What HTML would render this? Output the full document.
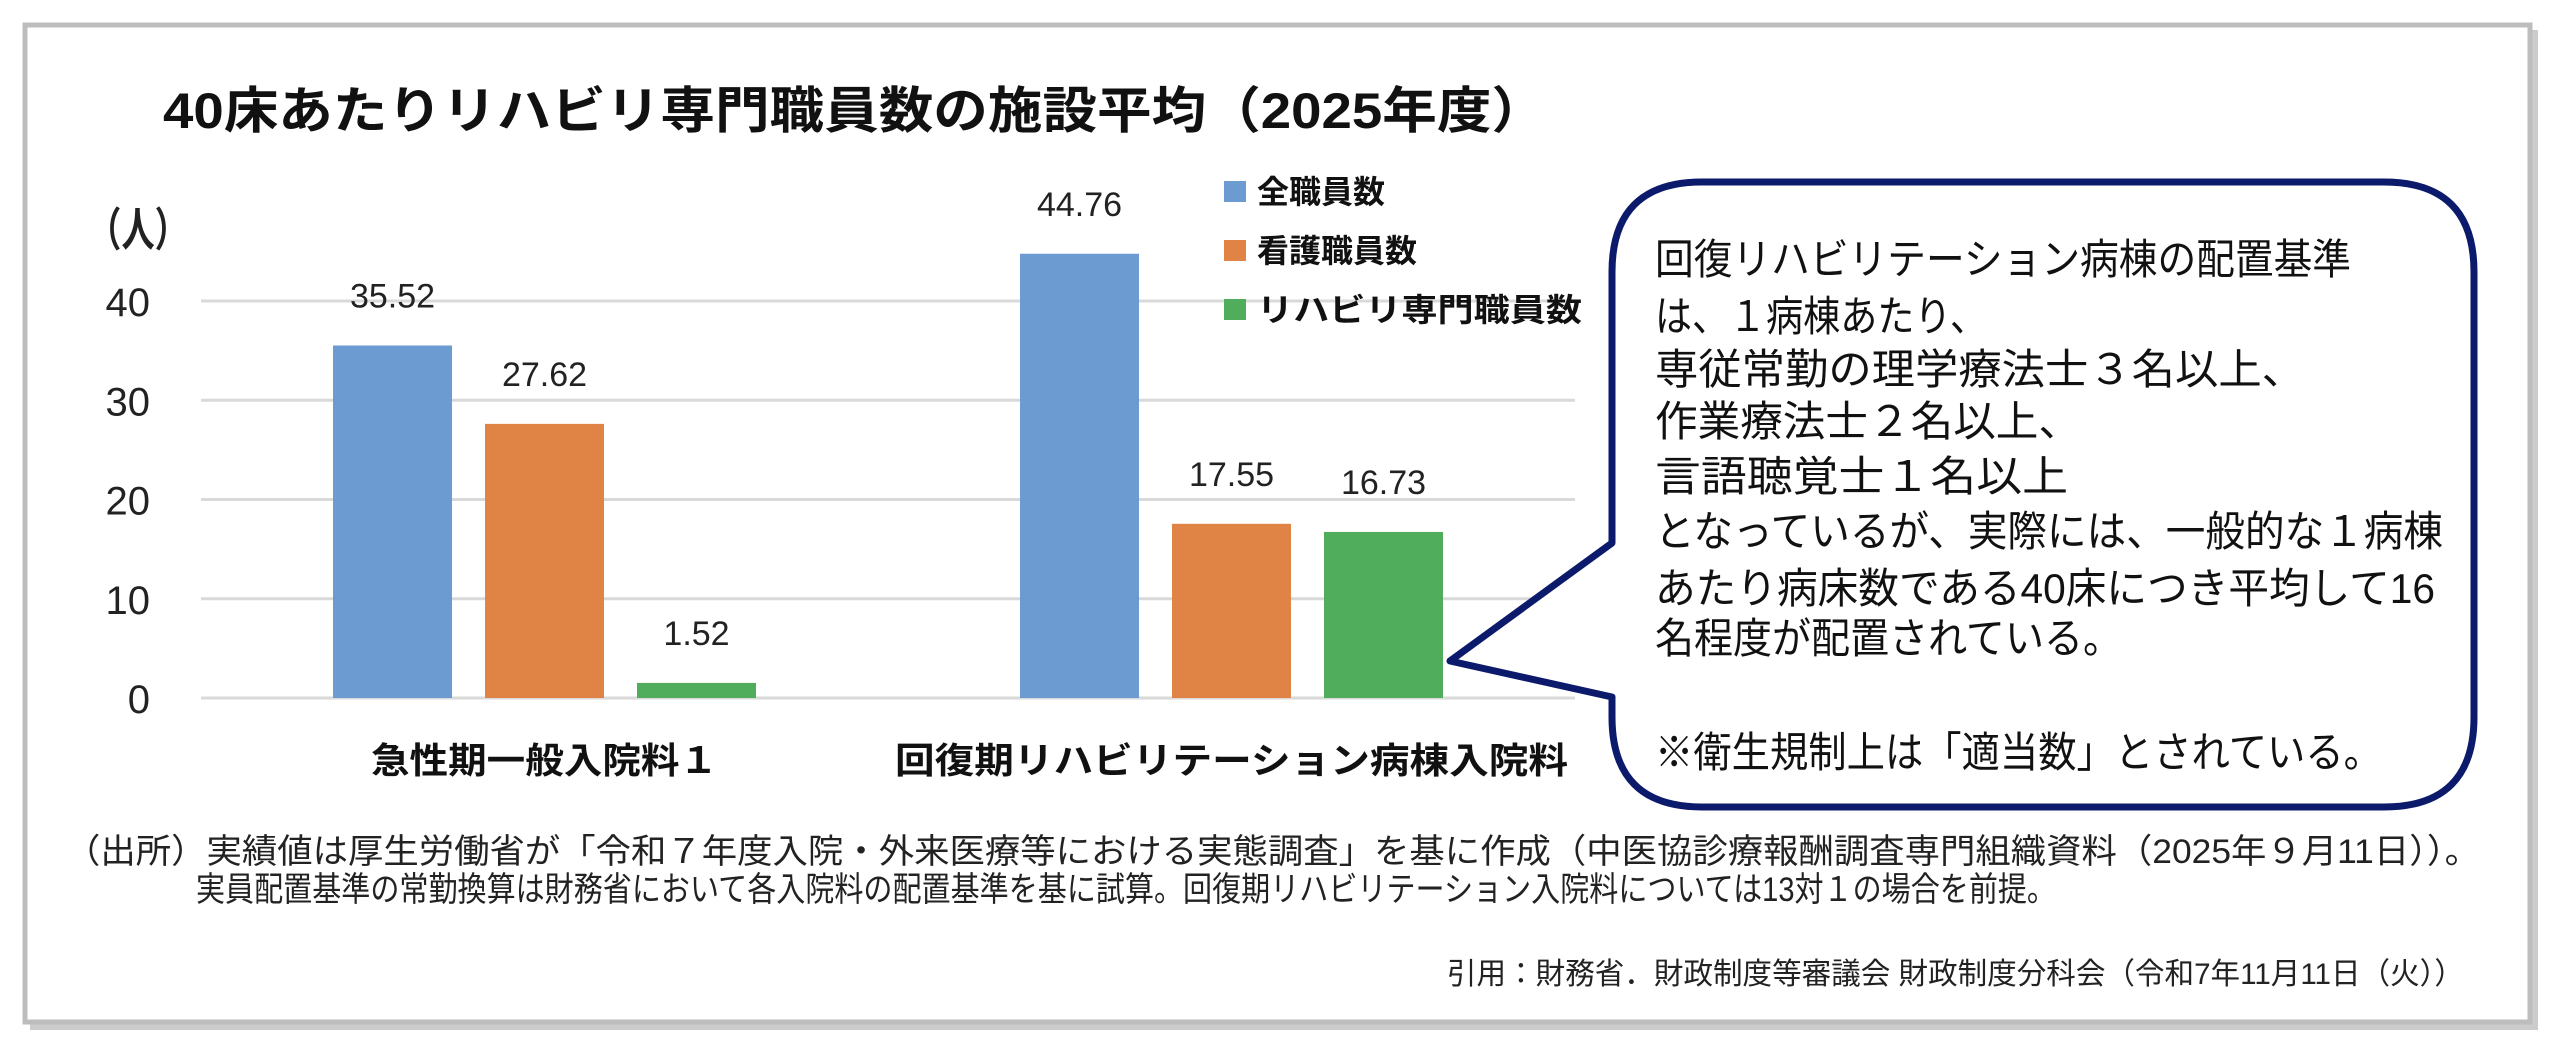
<!DOCTYPE html>
<html><head><meta charset="utf-8"><style>
html,body{margin:0;padding:0;background:#fff;}
svg{display:block;font-family:"Liberation Sans","Noto Sans CJK JP",sans-serif;}
</style></head><body>
<svg id="chart" width="2560" height="1052" viewBox="0 0 2560 1052" xmlns="http://www.w3.org/2000/svg">
<rect x="30" y="30" width="2508" height="1000" fill="#9a9a9a" opacity="0.5"/>
<rect x="25" y="25" width="2505" height="997" fill="#fff" stroke="#bdbdbd" stroke-width="5"/>
<text x="163" y="128" font-size="50" font-weight="bold" fill="#111" textLength="1383" lengthAdjust="spacingAndGlyphs">40床あたりリハビリ専門職員数の施設平均（2025年度）</text>
<text x="88" y="246" font-size="46" font-weight="bold" fill="#222" textLength="100" lengthAdjust="spacingAndGlyphs">（人）</text>
<g id="grid"></g><g id="bars"></g><g id="labels"></g>
<g>
<rect x="1224" y="181" width="22" height="21" fill="#6b9bd1"/>
<text x="1257" y="203" font-size="32" font-weight="bold" fill="#111">全職員数</text>
<rect x="1224" y="240" width="22" height="21" fill="#e08446"/>
<text x="1257" y="262" font-size="32" font-weight="bold" fill="#111">看護職員数</text>
<rect x="1224" y="299" width="22" height="21" fill="#4fad5b"/>
<text x="1257" y="321" font-size="32" font-weight="bold" fill="#111" textLength="325" lengthAdjust="spacingAndGlyphs">リハビリ専門職員数</text>
</g>
<path d="M1702,182 H2384 Q2474,182 2474,272 V717 Q2474,807 2384,807 H1702 Q1612,807 1612,717 V697 L1450,661 L1612,543 V272 Q1612,182 1702,182 Z" fill="#fff" stroke="#0c1a6b" stroke-width="7" stroke-linejoin="round"/>
<g font-size="42" fill="#111">
<text x="1655" y="274" textLength="696" lengthAdjust="spacingAndGlyphs">回復リハビリテーション病棟の配置基準</text>
<text x="1655" y="331" textLength="332" lengthAdjust="spacingAndGlyphs">は、１病棟あたり、</text>
<text x="1655" y="384" textLength="650" lengthAdjust="spacingAndGlyphs">専従常勤の理学療法士３名以上、</text>
<text x="1655" y="436" textLength="426" lengthAdjust="spacingAndGlyphs">作業療法士２名以上、</text>
<text x="1655" y="491" textLength="413" lengthAdjust="spacingAndGlyphs">言語聴覚士１名以上</text>
<text x="1655" y="546" textLength="788" lengthAdjust="spacingAndGlyphs">となっているが、実際には、一般的な１病棟</text>
<text x="1655" y="603" textLength="780" lengthAdjust="spacingAndGlyphs">あたり病床数である40床につき平均して16</text>
<text x="1655" y="653" textLength="467" lengthAdjust="spacingAndGlyphs">名程度が配置されている。</text>
<text x="1655" y="767" textLength="727" lengthAdjust="spacingAndGlyphs">※衛生規制上は「適当数」とされている。</text>
</g>
<text x="65" y="863" font-size="34" fill="#222" textLength="2415" lengthAdjust="spacingAndGlyphs">（出所）実績値は厚生労働省が「令和７年度入院・外来医療等における実態調査」を基に作成（中医協診療報酬調査専門組織資料（2025年９月11日））。</text>
<text x="196" y="901" font-size="34" fill="#222" textLength="1860" lengthAdjust="spacingAndGlyphs">実員配置基準の常勤換算は財務省において各入院料の配置基準を基に試算。回復期リハビリテーション入院料については13対１の場合を前提。</text>
<text x="1447" y="984" font-size="30" fill="#222" textLength="1017" lengthAdjust="spacingAndGlyphs">引用：財務省．財政制度等審議会 財政制度分科会（令和7年11月11日（火））</text>
</svg>
<script>
const categories = ["急性期一般入院料１", "回復期リハビリテーション病棟入院料"];
const seriesAll = [35.52, 44.76];
const seriesNurse = [27.62, 17.55];
const seriesRehab = [1.52, 16.73];
const yTicks = [0, 10, 20, 30, 40];
const catLabelWidths = [347, 673];

const NS = "http://www.w3.org/2000/svg";
const plotL = 201, plotR = 1575, y0 = 698, pxPerUnit = 9.925;
const yScale = v => y0 - v * pxPerUnit;
const catW = (plotR - plotL) / categories.length;
const xCenter = i => plotL + catW * (i + 0.5);
const barW = 119, barStep = 152;
function mk(tag, attrs, parent) {
  const el = document.createElementNS(NS, tag);
  for (const k in attrs) el.setAttribute(k, attrs[k]);
  parent.appendChild(el);
  return el;
}
const grid = document.getElementById('grid');
const bars = document.getElementById('bars');
const labels = document.getElementById('labels');
yTicks.forEach(t => {
  const ln = mk('line', {x1: plotL, x2: plotR, y1: yScale(t), y2: yScale(t), stroke: '#d9d9d9', 'stroke-width': 3}, grid);
  
  
  const tx = mk('text', {x: 150, y: yScale(t) + 15, 'font-size': 40, fill: '#222', 'text-anchor': 'end'}, grid);
  tx.textContent = t;
  
  
});
const series = [{v: seriesAll, c: '#6b9bd1', n: 'all'}, {v: seriesNurse, c: '#e08446', n: 'nurse'}, {v: seriesRehab, c: '#4fad5b', n: 'rehab'}];
categories.forEach((cat, i) => {
  series.forEach((s, j) => {
    const cx = xCenter(i) + (j - 1) * barStep;
    const v = s.v[i];
    const r = mk('rect', {x: cx - barW / 2, y: yScale(v), width: barW, height: y0 - yScale(v), fill: s.c}, bars);
    
    
    const t = mk('text', {x: cx, y: yScale(v) - 38, 'font-size': 34, fill: '#222', 'text-anchor': 'middle'}, labels);
    t.textContent = v.toFixed(2);
    
    
  });
  const cl = mk('text', {x: xCenter(i), y: 773, 'font-size': 36, 'font-weight': 'bold', fill: '#111', 'text-anchor': 'middle', textLength: catLabelWidths[i], lengthAdjust: 'spacingAndGlyphs'}, labels);
  cl.textContent = cat;
  
  
});
</script>
</body></html>
